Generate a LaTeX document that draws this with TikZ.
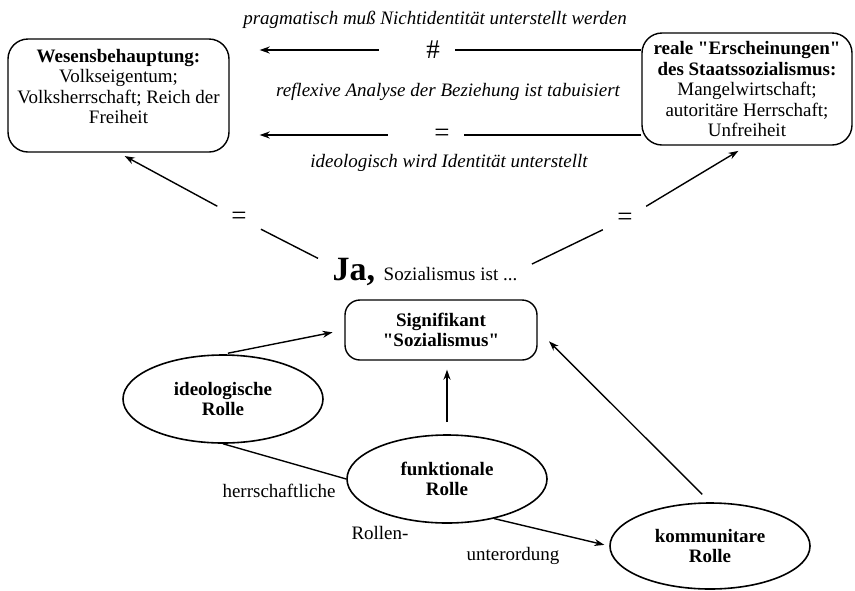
\documentclass[tikz,border=0pt]{standalone}
\usepackage{fontspec}
\setmainfont{Liberation Serif}
\usetikzlibrary{shapes.geometric,arrows.meta}

\begin{document}
\begin{tikzpicture}[x=1pt, y=-1pt,
  block/.style={rectangle, draw, rounded corners=20pt, align=center, inner sep=2pt},
  role/.style={ellipse, draw, line width=1.6pt, minimum width=200pt, minimum height=88pt, align=center, font=\bfseries},
  rel/.style={inner sep=0pt, minimum width=43pt, minimum height=20pt, font=\fontsize{27}{27}\selectfont},
  gap/.style={circle, inner sep=0pt, minimum size=48pt, font=\fontsize{27}{27}\selectfont},
  >={Stealth[length=10pt, width=7pt]}, line width=1.4pt]
  \fontsize{19}{20.5}\selectfont
  \useasboundingbox (0,0) rectangle (855,590);
  \node[block, minimum width=221pt, minimum height=113pt] (wes) at (118.5,95.5) {\textbf{Wesensbehauptung:}\\ Volkseigentum;\\ Volksherrschaft; Reich der\\ Freiheit\rule[-18pt]{0pt}{0pt}};
  \node[block, minimum width=210pt, minimum height=112pt] (ersch) at (747,89) {\textbf{reale \textquotedbl Erscheinungen\textquotedbl}\\ \textbf{des Staatssozialismus:}\\ Mangelwirtschaft;\\ autoritäre Herrschaft;\\ Unfreiheit};
  \node[font=\itshape] (prag) at (435,20) {pragmatisch muß Nichtidentität unterstellt werden};
  \node[font=\itshape] (refl) at (448,92) {reflexive Analyse der Beziehung ist tabuisiert};
  \node[font=\itshape] (ideol) at (449,163) {ideologisch wird Identität unterstellt};
  \node[rel] (neq) at (433,50) {\#};
  \node[rel] (eq) at (442,135) {=};
  \node[gap] (eqL) at (239,218) {=};
  \node[gap] (eqR) at (625,219) {=};
  \node[anchor=base, inner xsep=14pt] (ja) at (425,280) {{\fontsize{34}{36}\selectfont\bfseries Ja, }Sozialismus ist ...};
  \node[block, rounded corners=15pt, minimum width=192pt, minimum height=60pt, font=\bfseries] (sig) at (441,330) {Signifikant\\ \textquotedbl Sozialismus\textquotedbl};
  \node[role] (ideo) at (223,399) {ideologische\\ Rolle};
  \node[role] (funk) at (447,479) {funktionale\\ Rolle};
  \node[role, minimum height=86pt] (komm) at (710,546) {kommunitare\\ Rolle};
  \node (herr) at (279,491) {herrschaftliche};
  \node (rol) at (380,533) {Rollen-};
  \node (unter) at (513,556) {unterordung};

  \draw[->, shorten >=30pt, shorten <=32pt] (ersch.west |- neq) -- (neq) -- (wes.east |- neq);
  \draw[->, shorten >=30pt, shorten <=32pt] (ersch.west |- eq) -- (eq) -- (wes.east |- eq);
  \draw[->, shorten >=7pt] (ja.173) -- (eqL) -- (wes.south);
  \draw[->, shorten >=10pt] (ja.4) -- (eqR) -- (ersch.south);
  \draw[->, shorten <=5pt, shorten >=12pt] (ideo.north) -- (sig.west);
  \draw[->, shorten <=12pt, shorten >=9pt] (funk.north) -- (funk.north |- sig.south);
  \draw[->, shorten <=11pt, shorten >=16pt] (komm.north) -- (sig.east);
  \draw (ideo.south) -- (funk.west);
  \draw[->, shorten >=5pt] (funk.-40) -- (komm.west);
\end{tikzpicture}
\end{document}
